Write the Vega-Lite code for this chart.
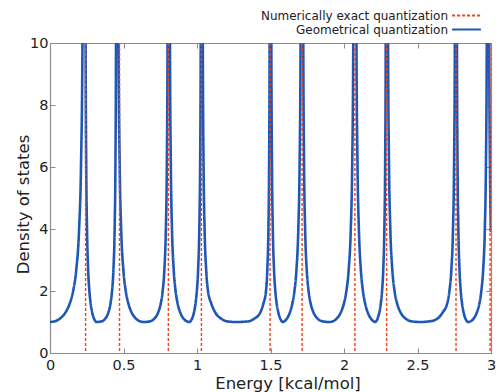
{
 "$schema": "https://vega.github.io/schema/vega-lite/v6.json",
 "width": 441, "height": 310,
 "autosize": {"type": "none"},
 "padding": {"left": 50, "top": 43, "right": 10, "bottom": 39},
 "background": "white",
 "config": {
  "font": "DejaVu Sans",
  "view": {"stroke": null},
  "axis": {"grid": false, "domainColor": "#8c8c8c", "domainWidth": 1.2, "tickColor": "#8c8c8c", "tickSize": -5, "tickWidth": 1, "labelFont": "DejaVu Sans", "labelFontSize": 14.5, "labelColor": "#222", "labelFlush": false, "titleFont": "DejaVu Sans", "titleFontSize": 16.5, "titleFontWeight": "normal", "titleColor": "#222"}
 },
 "datasets": {
  "exact": [
   {"s": "Numerically exact quantization", "E": 0.242},
   {"s": "Numerically exact quantization", "E": 0.473},
   {"s": "Numerically exact quantization", "E": 0.805},
   {"s": "Numerically exact quantization", "E": 1.030},
   {"s": "Numerically exact quantization", "E": 1.497},
   {"s": "Numerically exact quantization", "E": 1.715},
   {"s": "Numerically exact quantization", "E": 2.074},
   {"s": "Numerically exact quantization", "E": 2.290},
   {"s": "Numerically exact quantization", "E": 2.762},
   {"s": "Numerically exact quantization", "E": 2.994}
  ],
  "dos": [
   {"s":"Geometrical quantization","E":0,"D":1},{"s":"Geometrical quantization","E":0.0299,"D":1.02},{"s":"Geometrical quantization","E":0.0646,"D":1.1},{"s":"Geometrical quantization","E":0.1042,"D":1.3},{"s":"Geometrical quantization","E":0.1346,"D":1.6},{"s":"Geometrical quantization","E":0.1573,"D":2},{"s":"Geometrical quantization","E":0.179,"D":2.7},{"s":"Geometrical quantization","E":0.198,"D":4},{"s":"Geometrical quantization","E":0.2108,"D":6},{"s":"Geometrical quantization","E":0.2209,"D":10},{"s":"Geometrical quantization","E":0.2285,"D":20},{"s":"Geometrical quantization","E":0.236,"D":40},
   {"s":"Geometrical quantization","E":0.2392,"D":20},{"s":"Geometrical quantization","E":0.2423,"D":10},{"s":"Geometrical quantization","E":0.2465,"D":6},{"s":"Geometrical quantization","E":0.2518,"D":4},{"s":"Geometrical quantization","E":0.2594,"D":2.7},{"s":"Geometrical quantization","E":0.2678,"D":2},{"s":"Geometrical quantization","E":0.2764,"D":1.6},{"s":"Geometrical quantization","E":0.2872,"D":1.3},{"s":"Geometrical quantization","E":0.3002,"D":1.1},{"s":"Geometrical quantization","E":0.31,"D":1.02},{"s":"Geometrical quantization","E":0.316,"D":1},
   {"s":"Geometrical quantization","E":0.351,"D":1.02},{"s":"Geometrical quantization","E":0.3746,"D":1.1},{"s":"Geometrical quantization","E":0.3966,"D":1.3},{"s":"Geometrical quantization","E":0.4116,"D":1.6},{"s":"Geometrical quantization","E":0.4221,"D":2},{"s":"Geometrical quantization","E":0.4316,"D":2.7},{"s":"Geometrical quantization","E":0.4397,"D":4},{"s":"Geometrical quantization","E":0.4449,"D":6},{"s":"Geometrical quantization","E":0.449,"D":10},{"s":"Geometrical quantization","E":0.452,"D":20},{"s":"Geometrical quantization","E":0.455,"D":40},
   {"s":"Geometrical quantization","E":0.4608,"D":20},{"s":"Geometrical quantization","E":0.4665,"D":10},{"s":"Geometrical quantization","E":0.4743,"D":6},{"s":"Geometrical quantization","E":0.4841,"D":4},{"s":"Geometrical quantization","E":0.4987,"D":2.7},{"s":"Geometrical quantization","E":0.5153,"D":2},{"s":"Geometrical quantization","E":0.5328,"D":1.6},{"s":"Geometrical quantization","E":0.5561,"D":1.3},{"s":"Geometrical quantization","E":0.5865,"D":1.1},{"s":"Geometrical quantization","E":0.6131,"D":1.02},{"s":"Geometrical quantization","E":0.636,"D":1},
   {"s":"Geometrical quantization","E":0.6791,"D":1.02},{"s":"Geometrical quantization","E":0.7081,"D":1.1},{"s":"Geometrical quantization","E":0.7351,"D":1.3},{"s":"Geometrical quantization","E":0.7536,"D":1.6},{"s":"Geometrical quantization","E":0.7665,"D":2},{"s":"Geometrical quantization","E":0.7782,"D":2.7},{"s":"Geometrical quantization","E":0.7881,"D":4},{"s":"Geometrical quantization","E":0.7946,"D":6},{"s":"Geometrical quantization","E":0.7996,"D":10},{"s":"Geometrical quantization","E":0.8034,"D":20},{"s":"Geometrical quantization","E":0.807,"D":40},
   {"s":"Geometrical quantization","E":0.8115,"D":20},{"s":"Geometrical quantization","E":0.8161,"D":10},{"s":"Geometrical quantization","E":0.8221,"D":6},{"s":"Geometrical quantization","E":0.8298,"D":4},{"s":"Geometrical quantization","E":0.8413,"D":2.7},{"s":"Geometrical quantization","E":0.8543,"D":2},{"s":"Geometrical quantization","E":0.868,"D":1.6},{"s":"Geometrical quantization","E":0.8863,"D":1.3},{"s":"Geometrical quantization","E":0.9101,"D":1.1},{"s":"Geometrical quantization","E":0.931,"D":1.02},{"s":"Geometrical quantization","E":0.949,"D":1},
   {"s":"Geometrical quantization","E":0.9553,"D":1.02},{"s":"Geometrical quantization","E":0.9654,"D":1.1},{"s":"Geometrical quantization","E":0.9789,"D":1.3},{"s":"Geometrical quantization","E":0.9901,"D":1.6},{"s":"Geometrical quantization","E":0.999,"D":2},{"s":"Geometrical quantization","E":1.0078,"D":2.7},{"s":"Geometrical quantization","E":1.0157,"D":4},{"s":"Geometrical quantization","E":1.0211,"D":6},{"s":"Geometrical quantization","E":1.0254,"D":10},{"s":"Geometrical quantization","E":1.0287,"D":20},{"s":"Geometrical quantization","E":1.032,"D":40},
   {"s":"Geometrical quantization","E":1.0357,"D":20},{"s":"Geometrical quantization","E":1.0395,"D":10},{"s":"Geometrical quantization","E":1.0448,"D":6},{"s":"Geometrical quantization","E":1.0516,"D":4},{"s":"Geometrical quantization","E":1.0621,"D":2.7},{"s":"Geometrical quantization","E":1.0748,"D":2},{"s":"Geometrical quantization","E":1.097,"D":1.6},{"s":"Geometrical quantization","E":1.125,"D":1.3},{"s":"Geometrical quantization","E":1.1668,"D":1.1},{"s":"Geometrical quantization","E":1.2063,"D":1.02},{"s":"Geometrical quantization","E":1.265,"D":1},
   {"s":"Geometrical quantization","E":1.3482,"D":1.02},{"s":"Geometrical quantization","E":1.387,"D":1.1},{"s":"Geometrical quantization","E":1.43,"D":1.3},{"s":"Geometrical quantization","E":1.452,"D":1.6},{"s":"Geometrical quantization","E":1.4694,"D":2},{"s":"Geometrical quantization","E":1.4784,"D":2.7},{"s":"Geometrical quantization","E":1.4857,"D":4},{"s":"Geometrical quantization","E":1.4904,"D":6},{"s":"Geometrical quantization","E":1.4939,"D":10},{"s":"Geometrical quantization","E":1.4965,"D":20},{"s":"Geometrical quantization","E":1.499,"D":40},
   {"s":"Geometrical quantization","E":1.5024,"D":20},{"s":"Geometrical quantization","E":1.5057,"D":10},{"s":"Geometrical quantization","E":1.5102,"D":6},{"s":"Geometrical quantization","E":1.5157,"D":4},{"s":"Geometrical quantization","E":1.5238,"D":2.7},{"s":"Geometrical quantization","E":1.5328,"D":2},{"s":"Geometrical quantization","E":1.5419,"D":1.6},{"s":"Geometrical quantization","E":1.5534,"D":1.3},{"s":"Geometrical quantization","E":1.5672,"D":1.1},{"s":"Geometrical quantization","E":1.5776,"D":1.02},{"s":"Geometrical quantization","E":1.584,"D":1},
   {"s":"Geometrical quantization","E":1.5939,"D":1.02},{"s":"Geometrical quantization","E":1.6099,"D":1.1},{"s":"Geometrical quantization","E":1.6312,"D":1.3},{"s":"Geometrical quantization","E":1.6489,"D":1.6},{"s":"Geometrical quantization","E":1.6629,"D":2},{"s":"Geometrical quantization","E":1.6767,"D":2.7},{"s":"Geometrical quantization","E":1.6892,"D":4},{"s":"Geometrical quantization","E":1.6978,"D":6},{"s":"Geometrical quantization","E":1.7046,"D":10},{"s":"Geometrical quantization","E":1.7098,"D":20},{"s":"Geometrical quantization","E":1.715,"D":40},
   {"s":"Geometrical quantization","E":1.719,"D":20},{"s":"Geometrical quantization","E":1.723,"D":10},{"s":"Geometrical quantization","E":1.7285,"D":6},{"s":"Geometrical quantization","E":1.7355,"D":4},{"s":"Geometrical quantization","E":1.7463,"D":2.7},{"s":"Geometrical quantization","E":1.759,"D":2},{"s":"Geometrical quantization","E":1.7731,"D":1.6},{"s":"Geometrical quantization","E":1.7932,"D":1.3},{"s":"Geometrical quantization","E":1.8226,"D":1.1},{"s":"Geometrical quantization","E":1.8541,"D":1.02},{"s":"Geometrical quantization","E":1.901,"D":1},
   {"s":"Geometrical quantization","E":1.9229,"D":1.02},{"s":"Geometrical quantization","E":1.9483,"D":1.1},{"s":"Geometrical quantization","E":1.9774,"D":1.3},{"s":"Geometrical quantization","E":1.9996,"D":1.6},{"s":"Geometrical quantization","E":2.0163,"D":2},{"s":"Geometrical quantization","E":2.0322,"D":2.7},{"s":"Geometrical quantization","E":2.0462,"D":4},{"s":"Geometrical quantization","E":2.0556,"D":6},{"s":"Geometrical quantization","E":2.063,"D":10},{"s":"Geometrical quantization","E":2.0685,"D":20},{"s":"Geometrical quantization","E":2.074,"D":40},
   {"s":"Geometrical quantization","E":2.0795,"D":20},{"s":"Geometrical quantization","E":2.0849,"D":10},{"s":"Geometrical quantization","E":2.0921,"D":6},{"s":"Geometrical quantization","E":2.1012,"D":4},{"s":"Geometrical quantization","E":2.1143,"D":2.7},{"s":"Geometrical quantization","E":2.1289,"D":2},{"s":"Geometrical quantization","E":2.1436,"D":1.6},{"s":"Geometrical quantization","E":2.1623,"D":1.3},{"s":"Geometrical quantization","E":2.1847,"D":1.1},{"s":"Geometrical quantization","E":2.2016,"D":1.02},{"s":"Geometrical quantization","E":2.212,"D":1},
   {"s":"Geometrical quantization","E":2.2179,"D":1.02},{"s":"Geometrical quantization","E":2.2274,"D":1.1},{"s":"Geometrical quantization","E":2.2401,"D":1.3},{"s":"Geometrical quantization","E":2.2506,"D":1.6},{"s":"Geometrical quantization","E":2.259,"D":2},{"s":"Geometrical quantization","E":2.2672,"D":2.7},{"s":"Geometrical quantization","E":2.2746,"D":4},{"s":"Geometrical quantization","E":2.2798,"D":6},{"s":"Geometrical quantization","E":2.2838,"D":10},{"s":"Geometrical quantization","E":2.2869,"D":20},{"s":"Geometrical quantization","E":2.29,"D":40},
   {"s":"Geometrical quantization","E":2.2949,"D":20},{"s":"Geometrical quantization","E":2.2998,"D":10},{"s":"Geometrical quantization","E":2.3065,"D":6},{"s":"Geometrical quantization","E":2.3151,"D":4},{"s":"Geometrical quantization","E":2.3284,"D":2.7},{"s":"Geometrical quantization","E":2.344,"D":2},{"s":"Geometrical quantization","E":2.3612,"D":1.6},{"s":"Geometrical quantization","E":2.3858,"D":1.3},{"s":"Geometrical quantization","E":2.4219,"D":1.1},{"s":"Geometrical quantization","E":2.4605,"D":1.02},{"s":"Geometrical quantization","E":2.518,"D":1},
   {"s":"Geometrical quantization","E":2.5795,"D":1.02},{"s":"Geometrical quantization","E":2.633,"D":1.1},{"s":"Geometrical quantization","E":2.67,"D":1.3},{"s":"Geometrical quantization","E":2.7022,"D":1.6},{"s":"Geometrical quantization","E":2.7172,"D":2},{"s":"Geometrical quantization","E":2.7305,"D":2.7},{"s":"Geometrical quantization","E":2.7415,"D":4},{"s":"Geometrical quantization","E":2.7486,"D":6},{"s":"Geometrical quantization","E":2.7541,"D":10},{"s":"Geometrical quantization","E":2.7581,"D":20},{"s":"Geometrical quantization","E":2.762,"D":40},
   {"s":"Geometrical quantization","E":2.7652,"D":20},{"s":"Geometrical quantization","E":2.7684,"D":10},{"s":"Geometrical quantization","E":2.7726,"D":6},{"s":"Geometrical quantization","E":2.7779,"D":4},{"s":"Geometrical quantization","E":2.7857,"D":2.7},{"s":"Geometrical quantization","E":2.7942,"D":2},{"s":"Geometrical quantization","E":2.8029,"D":1.6},{"s":"Geometrical quantization","E":2.8138,"D":1.3},{"s":"Geometrical quantization","E":2.827,"D":1.1},{"s":"Geometrical quantization","E":2.8369,"D":1.02},{"s":"Geometrical quantization","E":2.843,"D":1},
   {"s":"Geometrical quantization","E":2.8603,"D":1.02},{"s":"Geometrical quantization","E":2.8805,"D":1.1},{"s":"Geometrical quantization","E":2.9035,"D":1.3},{"s":"Geometrical quantization","E":2.9211,"D":1.6},{"s":"Geometrical quantization","E":2.9343,"D":2},{"s":"Geometrical quantization","E":2.9469,"D":2.7},{"s":"Geometrical quantization","E":2.958,"D":4},{"s":"Geometrical quantization","E":2.9654,"D":6},{"s":"Geometrical quantization","E":2.9713,"D":10},{"s":"Geometrical quantization","E":2.9756,"D":20},{"s":"Geometrical quantization","E":2.98,"D":40},
   {"s":"Geometrical quantization","E":2.9839,"D":20},{"s":"Geometrical quantization","E":2.9878,"D":10},{"s":"Geometrical quantization","E":2.993,"D":6},{"s":"Geometrical quantization","E":3,"D":3.9}
  ]
 },
 "layer": [
  {
   "data": {"name": "dos"},
   "mark": {"type": "line", "strokeWidth": 2.6, "interpolate": "monotone", "clip": true},
   "encoding": {
    "x": {"field": "E", "type": "quantitative", "scale": {"domain": [0, 3], "nice": false, "zero": false},
          "axis": {"orient": "bottom", "values": [0, 0.5, 1, 1.5, 2, 2.5, 3], "format": "~g", "labelPadding": 10, "title": "Energy [kcal/mol]", "titleX": 237.5, "titleY": 35, "titleBaseline": "alphabetic", "titleAlign": "center"}},
    "y": {"field": "D", "type": "quantitative", "scale": {"domain": [0, 10], "nice": false},
          "axis": {"orient": "left", "values": [0, 2, 4, 6, 8, 10], "labelPadding": 7, "title": "Density of states", "titleX": -22, "titleY": 161, "titleAngle": -90, "titleBaseline": "alphabetic", "titleAlign": "center"}},
    "color": {"field": "s", "type": "nominal",
              "scale": {"domain": ["Numerically exact quantization", "Geometrical quantization"], "range": ["#f0441a", "#1f57b5"]},
              "legend": {"orient": "none", "legendX": 409, "legendY": -35, "title": null, "symbolType": "M-2.4,0H2.4", "symbolSize": 144, "symbolStrokeWidth": 2.2, "labelFontSize": 12, "labelFont": "DejaVu Sans", "labelColor": "#222", "labelAlign": "right", "labelOffset": -26, "labelLimit": 400, "rowPadding": 0, "padding": 0}},
    "strokeDash": {"field": "s", "type": "nominal",
                   "scale": {"domain": ["Numerically exact quantization", "Geometrical quantization"], "range": [[3, 2], [1, 0]]}}
   }
  },
  {
   "data": {"name": "exact"},
   "mark": {"type": "rule", "strokeWidth": 1.4},
   "encoding": {
    "x": {"field": "E", "type": "quantitative", "axis": null},
    "color": {"field": "s", "type": "nominal"},
    "strokeDash": {"field": "s", "type": "nominal"}
   }
  },
  {
   "data": {"name": "dos"},
   "mark": {"type": "point", "opacity": 0, "clip": true},
   "encoding": {
    "x": {"field": "E", "type": "quantitative", "axis": {"orient": "top", "values": [0, 0.5, 1, 1.5, 2, 2.5, 3], "labels": false, "title": null}},
    "y": {"field": "D", "type": "quantitative", "axis": {"orient": "right", "values": [0, 2, 4, 6, 8, 10], "labels": false, "title": null}}
   }
  }
 ],
 "resolve": {"axis": {"x": "independent", "y": "independent"}}
}
